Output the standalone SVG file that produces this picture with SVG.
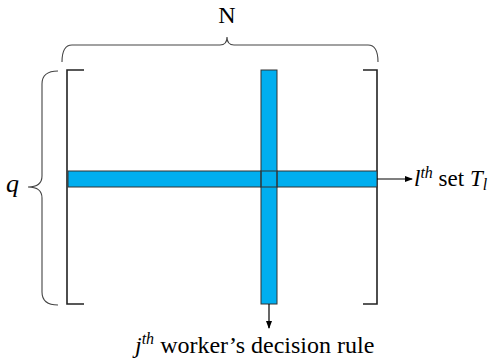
<svg xmlns="http://www.w3.org/2000/svg" width="492" height="364" viewBox="0 0 492 364">
<style>
.br{fill:none;stroke:#222;stroke-width:1.6}
.brace{fill:none;stroke:#444;stroke-width:1.1}
.bar{fill:#00aeef;stroke:#333;stroke-width:1}
.t{font-family:"Liberation Serif","Times New Roman",serif;fill:#000}
.ln{stroke:#000;stroke-width:1.2;fill:none}
</style>
<defs>
<marker id="ah" markerWidth="8" markerHeight="8" refX="7" refY="4" orient="auto" markerUnits="userSpaceOnUse">
<path d="M0,1 L8,4 L0,7 Z" fill="#000"/>
</marker>
</defs>
<g id="matrix">
<path class="br" d="M84,70 H67 V304 H84"/>
<path class="br" d="M363,70 H377 V304 H363"/>
</g>
<g id="braceN">
<path class="brace" d="M62,62 Q62,45 72,45 H220 Q227,45 227,37 Q227,45 234,45 H368 Q378,45 378,62"/>
<text class="t" x="227" y="23" font-size="24" text-anchor="middle">N</text>
</g>
<g id="braceQ">
<path class="brace" d="M58,71 Q42,71 42,84 V176 Q42,187 28,187 Q42,187 42,198 V292 Q42,305 58,305"/>
<text class="t" x="6" y="192" font-size="26" font-style="italic">q</text>
</g>
<g id="row">
<rect class="bar" x="68" y="171" width="309" height="16"/>
</g>
<g id="col">
<rect class="bar" x="261" y="70" width="16" height="234"/>
<rect x="261" y="171" width="16" height="16" fill="none" stroke="#333" stroke-width="1"/>
</g>
<g id="connectors">
<line class="ln" x1="377" y1="179" x2="412" y2="179" marker-end="url(#ah)"/>
<line class="ln" x1="269" y1="304" x2="269" y2="328" marker-end="url(#ah)"/>
</g>
<g id="labelRow">
<text class="t" x="414" y="186" font-size="23"><tspan font-style="italic">l</tspan><tspan font-style="italic" font-size="16" dy="-8">th</tspan><tspan dy="8"> set </tspan><tspan font-style="italic">T</tspan><tspan font-style="italic" font-size="16" dy="4">l</tspan></text>
</g>
<g id="labelCol">
<text class="t" x="135" y="353" font-size="24"><tspan font-style="italic">j</tspan><tspan font-style="italic" font-size="16" dy="-9">th</tspan><tspan dy="9"> worker’s decision rule</tspan></text>
</g>
</svg>
